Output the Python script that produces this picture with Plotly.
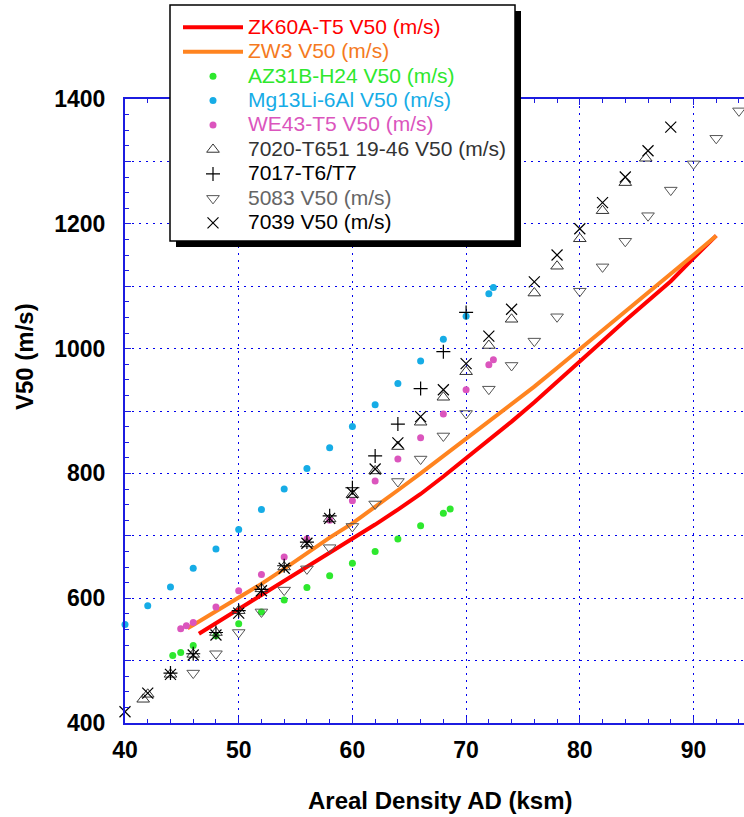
import plotly.graph_objects as go

# ---- data -------------------------------------------------------------
zk60_ad = [46.5, 48, 50, 52, 54, 56, 58, 60, 62, 64, 66, 68, 70, 72, 74, 76, 78, 80, 82, 84, 86, 88, 90, 92]
zk60_v = [543, 560, 582, 604, 627, 649, 672, 695, 718, 742, 767, 795, 824, 853, 883, 914, 946, 979, 1012, 1045, 1076, 1108, 1145, 1181]

zw3_ad = [45.5, 46, 48, 50, 52, 54, 56, 58, 60, 62, 64, 66, 68, 70, 72, 74, 76, 78, 80, 82, 84, 86, 88, 90, 92]
zw3_v = [552, 557, 579, 601, 623, 647, 672, 697, 720, 746, 773, 800, 828, 854, 882, 910, 939, 969, 999, 1028, 1058, 1090, 1120, 1150, 1181]

az31_ad = [44.2, 44.9, 46, 48, 50, 52, 54, 56, 58, 60, 62, 64, 66, 68, 68.6]
az31_v = [508, 513, 524, 540, 559, 578, 597, 617, 636, 656, 675, 695, 716, 736, 743]

mg13_ad = [40, 42, 44, 46, 48, 50, 52, 54, 56, 58, 60, 62, 64, 66, 68, 70, 72, 72.4]
mg13_v = [558, 588, 618, 648, 679, 710, 742, 775, 808, 841, 875, 910, 944, 980, 1015, 1052, 1088, 1098]

we43_ad = [44.9, 45.4, 46, 48, 50, 52, 54, 56, 58, 60, 62, 64, 66, 68, 70, 72, 72.4]
we43_v = [551, 556, 561, 586, 612, 638, 666, 695, 725, 756, 788, 823, 857, 895, 934, 974, 982]

al7020_ad = [41.6, 42, 44, 46, 48, 50, 52, 54, 56, 58, 60, 62, 64, 66, 68, 70, 72, 74, 76, 78, 80, 82, 84, 85.8]
al7020_v = [438, 446, 478, 510, 545, 580, 615, 650, 687, 727, 766, 804, 843, 882, 922, 963, 1005, 1047, 1089, 1132, 1176, 1221, 1266, 1305]

al7017_ad = [44, 46, 48, 50, 52, 54, 56, 58, 60, 62, 64, 66, 68, 70]
al7017_v = [480, 511, 545, 580, 614, 652, 690, 732, 777, 828, 879, 936, 995, 1058]

al5083_ad = [46, 48, 50, 52, 54, 56, 58, 60, 62, 64, 66, 68, 70, 72, 74, 76, 78, 80, 82, 84, 86, 88, 90, 92, 94]
al5083_v = [480, 511, 545, 578, 613, 647, 681, 715, 751, 787, 823, 860, 896, 935, 973, 1012, 1051, 1092, 1131, 1172, 1213, 1254, 1296, 1337, 1381]

al7039_ad = [40, 42, 44, 46, 48, 50, 52, 54, 56, 58, 60, 62, 64, 66, 68, 70, 72, 74, 76, 78, 80, 82, 84, 86, 88]
al7039_v = [418, 448, 478, 509, 541, 576, 612, 648, 688, 728, 769, 807, 849, 891, 934, 976, 1020, 1063, 1107, 1150, 1192, 1234, 1275, 1317, 1355]

y_tick_vals = [400, 500, 600, 700, 800, 900, 1000, 1100, 1200, 1300, 1400]
y_tick_text = ["400", "", "600", "", "800", "", "1000", "", "1200", "", "1400"]

# ---- page geometry ----------------------------------------------------
W, H = 744, 817
ML, MR, MT, MB = 125, 0, 99, 94
PW, PH = W - ML - MR, H - MT - MB


def px_x(p):
    return (p - ML) / PW


def px_y(p):
    return (H - MB - p) / PH


AXIS_BLUE = "#1c1ce0"
GRID_BLUE = "#0000ee"
FONT = "Liberation Sans, Arial, sans-serif"


def label(text, color):
    # legend rows are spaced by the legend font size; the entry text is drawn larger
    return f'<span style="color:{color}; font-size:21px">{text}</span>'


fig = go.Figure()

fig.add_trace(go.Scatter(x=zk60_ad, y=zk60_v, mode="lines",
                         line=dict(color="#ff0000", width=4),
                         name=label("ZK60A-T5 V50 (m/s)", "#ff0000")))
fig.add_trace(go.Scatter(x=zw3_ad, y=zw3_v, mode="lines",
                         line=dict(color="#ff8420", width=4),
                         name=label("ZW3 V50 (m/s)", "#f57a1e")))
fig.add_trace(go.Scatter(x=az31_ad, y=az31_v, mode="markers",
                         marker=dict(symbol="circle", size=7, color="#2ee82e"),
                         name=label("AZ31B-H24 V50 (m/s)", "#2ee82e")))
fig.add_trace(go.Scatter(x=mg13_ad, y=mg13_v, mode="markers",
                         marker=dict(symbol="circle", size=7, color="#16ace6"),
                         name=label("Mg13Li-6Al V50 (m/s)", "#16ace6")))
fig.add_trace(go.Scatter(x=we43_ad, y=we43_v, mode="markers",
                         marker=dict(symbol="circle", size=7, color="#db55bd"),
                         name=label("WE43-T5 V50 (m/s)", "#db55bd")))
fig.add_trace(go.Scatter(x=al7020_ad, y=al7020_v, mode="markers",
                         marker=dict(symbol="triangle-up-open", size=11, color="#333333",
                                     line=dict(width=1)),
                         name=label("7020-T651 19-46 V50 (m/s)", "#333333")))
fig.add_trace(go.Scatter(x=al7017_ad, y=al7017_v, mode="markers",
                         marker=dict(symbol="cross-thin-open", size=10, color="#000000",
                                     line=dict(width=1.2, color="#000000")),
                         name=label("7017-T6/T7", "#000000")))
fig.add_trace(go.Scatter(x=al5083_ad, y=al5083_v, mode="markers",
                         marker=dict(symbol="triangle-down-open", size=11, color="#555555",
                                     line=dict(width=1)),
                         name=label("5083 V50 (m/s)", "#666666")))
fig.add_trace(go.Scatter(x=al7039_ad, y=al7039_v, mode="markers",
                         marker=dict(symbol="x-thin-open", size=11, color="#000000",
                                     line=dict(width=1.2, color="#000000")),
                         name=label("7039 V50 (m/s)", "#000000")))

fig.update_traces(cliponaxis=False)

# legend frame with drop shadow
box = (170, 5, 515, 241)
sh = 6
shapes = [
    dict(type="rect", xref="paper", yref="paper", layer="above",
         x0=px_x(box[0] + sh), x1=px_x(box[2] + sh), y0=px_y(box[3] + sh), y1=px_y(box[1] + sh),
         fillcolor="#000000", line=dict(width=0)),
    dict(type="rect", xref="paper", yref="paper", layer="above",
         x0=px_x(box[0]), x1=px_x(box[2]), y0=px_y(box[3]), y1=px_y(box[1]),
         fillcolor="#ffffff", line=dict(color="#000000", width=1.5)),
]

fig.update_layout(
    width=W, height=H,
    margin=dict(l=ML, r=MR, t=MT, b=MB, pad=0),
    paper_bgcolor="#ffffff", plot_bgcolor="#ffffff",
    font=dict(family=FONT, color="#000000"),
    showlegend=True,
    legend=dict(x=px_x(box[0] + 8), y=px_y(box[1] + 5), xanchor="left", yanchor="top",
                bgcolor="rgba(0,0,0,0)", borderwidth=0,
                font=dict(family=FONT, size=16.5), itemwidth=60,
                tracegroupgap=0),
    shapes=shapes,
    annotations=[
        dict(text="Areal Density AD (ksm)", xref="paper", yref="paper",
             x=px_x(440), y=px_y(800), xanchor="center", yanchor="middle", showarrow=False,
             font=dict(family=FONT, size=24, weight="bold", color="#000000")),
        dict(text="V50 (m/s)", xref="paper", yref="paper", textangle=-90,
             x=px_x(24), y=px_y(357), xanchor="center", yanchor="middle", showarrow=False,
             font=dict(family=FONT, size=24, weight="bold", color="#000000")),
    ],
)

fig.update_xaxes(
    range=[40, 40 + PW / 11.37], tick0=40, dtick=10,
    showline=True, linecolor=AXIS_BLUE, linewidth=2, mirror="ticks",
    ticks="inside", ticklen=6, tickcolor=AXIS_BLUE, tickwidth=1,
    showgrid=True, gridcolor=GRID_BLUE, gridwidth=1, griddash="2px,5px",
    zeroline=False,
    tickfont=dict(family=FONT, size=23, weight="bold", color="#000000"),
    ticklabelstandoff=5,
    minor=dict(dtick=2, tick0=40, ticks="inside", ticklen=4, tickcolor=AXIS_BLUE, showgrid=False),
)
fig.update_yaxes(
    range=[400, 1400], tickmode="array", tickvals=y_tick_vals, ticktext=y_tick_text,
    showline=True, linecolor=AXIS_BLUE, linewidth=2, mirror=False,
    ticks="inside", ticklen=6, tickcolor=AXIS_BLUE, tickwidth=1,
    showgrid=True, gridcolor=GRID_BLUE, gridwidth=1, griddash="2px,5px",
    zeroline=False,
    tickfont=dict(family=FONT, size=23, weight="bold", color="#000000"),
    ticklabelstandoff=13,
    minor=dict(dtick=25, tick0=400, ticks="inside", ticklen=4, tickcolor=AXIS_BLUE, showgrid=False),
)

fig.write_html("out.html")
